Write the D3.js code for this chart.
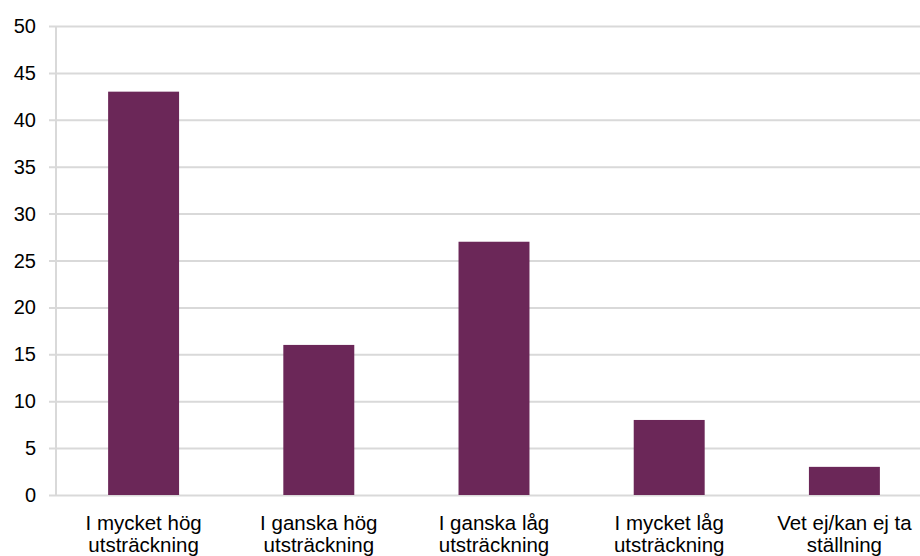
<!DOCTYPE html>
<html><head><meta charset="utf-8">
<script src="https://cdn.jsdelivr.net/npm/d3@7"></script>
<style>html,body{margin:0;padding:0;background:#fff;overflow:hidden}</style>
</head><body>
<svg id="c" width="920" height="556"></svg>
<script>
const categories = [
  ["I mycket hög", "utsträckning"],
  ["I ganska hög", "utsträckning"],
  ["I ganska låg", "utsträckning"],
  ["I mycket låg", "utsträckning"],
  ["Vet ej/kan ej ta", "ställning"]
];
const values = [43, 16, 27, 8, 3];
const yTicks = [0, 5, 10, 15, 20, 25, 30, 35, 40, 45, 50];

(function () {
const svg = d3.select("#c");
const mLeft = 56, mRight = 932, mTop = 26, mBottom = 495;
const font = "Liberation Sans, Arial, sans-serif";
const x = d3.scaleBand().domain(categories.map((d, i) => i)).range([mLeft, mRight]).paddingInner(0.595).paddingOuter(0.2975);
const y = d3.scaleLinear().domain([0, 50]).range([mBottom, mTop]);

// gridlines
svg.append("g").selectAll("line").data(yTicks).join("line")
  .attr("x1", mLeft - 7).attr("x2", 920)
  .attr("y1", d => y(d) + 0.5).attr("y2", d => y(d) + 0.5)
  .attr("stroke", "#d9d9d9").attr("stroke-width", 2);

// y axis line
svg.append("line").attr("x1", mLeft).attr("x2", mLeft).attr("y1", mTop).attr("y2", mBottom)
  .attr("stroke", "#d9d9d9").attr("stroke-width", 2);

// y tick labels
svg.append("g").selectAll("text").data(yTicks).join("text")
  .attr("x", 36).attr("y", d => y(d))
  .attr("dy", "0.35em").attr("text-anchor", "end")
  .attr("font-family", font).attr("font-size", 20).attr("fill", "#000")
  .text(d => d);

// bars
svg.append("g").selectAll("rect").data(values).join("rect")
  .attr("x", (d, i) => x(i)).attr("width", x.bandwidth())
  .attr("y", d => y(d)).attr("height", d => y(0) - y(d))
  .attr("fill", "#6b2758");

// x labels
const lab = svg.append("g").selectAll("text").data(categories).join("text")
  .attr("text-anchor", "middle")
  .attr("font-family", font).attr("font-size", 20.5).attr("fill", "#000");
lab.each(function(d, i) {
  const t = d3.select(this);
  d.forEach((line, j) => {
    t.append("tspan").attr("x", x(i) + x.bandwidth() / 2).attr("y", 530 + j * 21.5).text(line);
  });
});
})();
</script>
</body></html>
